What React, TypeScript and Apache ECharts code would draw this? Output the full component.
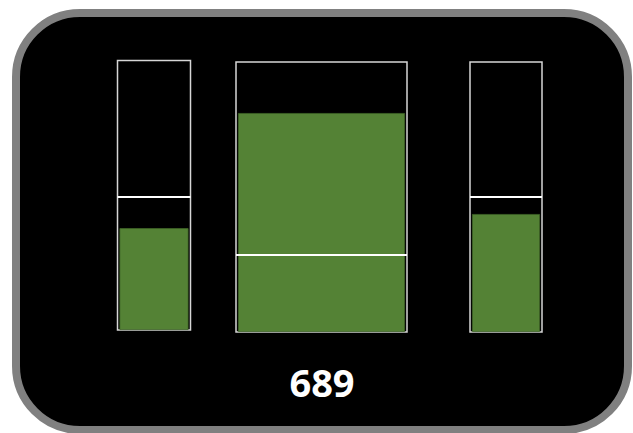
import React, { useEffect, useRef } from "react";
import * as echarts from "echarts";

const gaugeNames = ["Left", "Middle", "Right"];
const fillValues = [37.8, 81.1, 43.7];
const thresholdValues = [49.3, 28.5, 50.1];
const totalLabel = "689";

const grids = [
  { left: 117.5, top: 60.5, width: 73, height: 269.5, barWidth: 69 },
  { left: 236, top: 62, width: 171, height: 270, barWidth: 167 },
  { left: 470, top: 62, width: 72, height: 270, barWidth: 68 },
];

export default function App() {
  const ref = useRef<HTMLDivElement>(null);
  useEffect(() => {
    document.body.style.margin = "0";
    const chart = echarts.init(ref.current!, null, { renderer: "svg" });
    const option: any = {
      animation: false,
      backgroundColor: "#ffffff",
      graphic: [
        {
          type: "rect",
          z: -10,
          silent: true,
          shape: { x: 16, y: 13, width: 612, height: 417, r: 64 },
          style: { fill: "#000000", stroke: "#808080", lineWidth: 8 },
        },
        {
          type: "text",
          z: 10,
          x: 322,
          y: 382,
          style: {
            text: totalLabel,
            fill: "#ffffff",
            font: "bold 38px 'Open Sans', sans-serif",
            align: "center",
            verticalAlign: "middle",
          },
        },
      ],
      grid: grids.map((g) => ({
        left: g.left,
        top: g.top,
        width: g.width,
        height: g.height,
        show: true,
        backgroundColor: "transparent",
        borderColor: "#d6d6d6",
        borderWidth: 1.5,
        containLabel: false,
      })),
      xAxis: gaugeNames.map((name, i) => ({
        type: "category",
        gridIndex: i,
        data: [name],
        show: false,
      })),
      yAxis: gaugeNames.map((_, i) => ({
        type: "value",
        gridIndex: i,
        min: 0,
        max: 100,
        show: false,
        splitLine: { show: false },
      })),
      series: gaugeNames.map((name, i) => ({
        type: "bar",
        name,
        xAxisIndex: i,
        yAxisIndex: i,
        data: [fillValues[i]],
        barWidth: grids[i].barWidth,
        itemStyle: { color: "#548235", borderColor: "#3f6527", borderWidth: 0.8 },
        markLine: {
          silent: true,
          symbol: "none",
          label: { show: false },
          lineStyle: { color: "#ffffff", width: 2, type: "solid" },
          data: [{ yAxis: thresholdValues[i] }],
        },
      })),
    };
    chart.setOption(option);
    return () => chart.dispose();
  }, []);
  return <div ref={ref} style={{ width: 633, height: 433 }} />;
}
